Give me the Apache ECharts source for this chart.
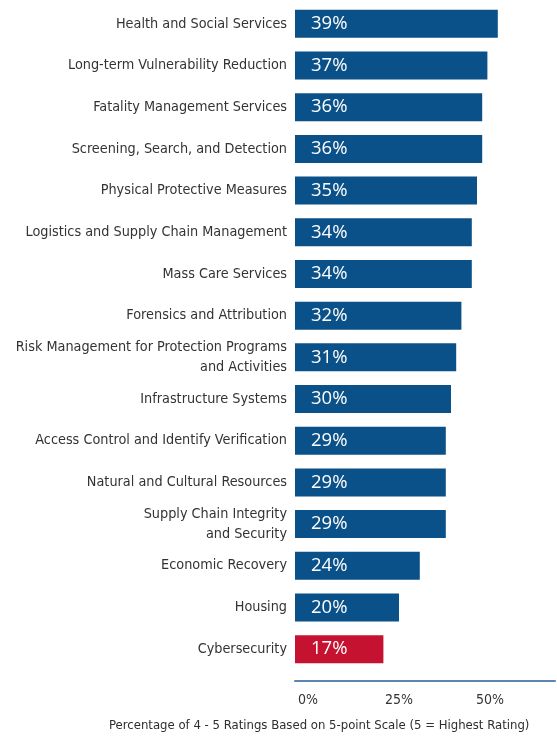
<!DOCTYPE html>
<html lang="en" style="height: 100%">
<head>
  <meta charset="UTF-8" />
  <title>Capability Ratings</title>
  <script src="https://cdn.jsdelivr.net/npm/echarts@6/dist/echarts.min.js"></script>
</head>
<body style="height: 100%; margin: 0; background: #fff">
  <div id="main" style="height: 100%"></div>
  <script type="text/javascript">
    // categories top to bottom
    var categories = [
      "Health and Social Services",
      "Long-term Vulnerability Reduction",
      "Fatality Management Services",
      "Screening, Search, and Detection",
      "Physical Protective Measures",
      "Logistics and Supply Chain Management",
      "Mass Care Services",
      "Forensics and Attribution",
      "Risk Management for Protection Programs\nand Activities",
      "Infrastructure Systems",
      "Access Control and Identify Verification",
      "Natural and Cultural Resources",
      "Supply Chain Integrity\nand Security",
      "Economic Recovery",
      "Housing",
      "Cybersecurity"
    ];
    var values = [39, 37, 36, 36, 35, 34, 34, 32, 31, 30, 29, 29, 29, 24, 20, 17];
    var highlight = "Cybersecurity";
    var tickValues = [0, 25, 50];
    var axisTitle = "Percentage of 4 - 5 Ratings Based on 5-point Scale (5 = Highest Rating)";

    var blue = "#0b5189";
    var red = "#c51230";
    var condensed = "'DejaVu Sans Condensed', sans-serif";

    var myChart = echarts.init(document.getElementById("main"));

    var barData = values.map(function (v, i) {
      return {
        value: v,
        itemStyle: { color: categories[i] === highlight ? red : blue }
      };
    });

    var option = {
      animation: false,
      title: {
        text: axisTitle,
        left: 104,
        bottom: 2,
        textStyle: { fontSize: 13, fontWeight: "normal", color: "#2e2e2e", fontFamily: condensed }
      },
      grid: { left: 295, right: 2, top: 3, bottom: 69, outerBoundsMode: "none" },
      xAxis: [
        { type: "value", min: 0, max: 50, show: false },
        {
          // tick labels as printed in the source graphic
          type: "value", min: -3.6, max: 67.9, position: "bottom", offset: 11,
          axisLine: { show: true, lineStyle: { color: "#5a86b4", width: 2 } },
          axisTick: { show: false },
          splitLine: { show: false },
          axisLabel: {
            customValues: tickValues,
            formatter: function (v) { return v + "%"; },
            color: "#333", fontSize: 14, margin: 12, fontFamily: condensed
          }
        }
      ],
      yAxis: {
        type: "category",
        data: categories,
        inverse: true,
        axisLine: { show: false },
        axisTick: { show: false },
        axisLabel: {
          color: "#333", fontSize: 14.3, margin: 8, lineHeight: 20,
          align: "right", fontFamily: condensed
        }
      },
      series: [
        {
          type: "bar",
          xAxisIndex: 0,
          data: barData,
          barWidth: 28,
          label: {
            show: true,
            position: "insideLeft",
            distance: 16,
            formatter: "{c}%",
            color: "#fff",
            fontSize: 18.5,
            fontFamily: "'Open Sans', sans-serif"
          }
        }
      ]
    };
    myChart.setOption(option);
    window.addEventListener("resize", myChart.resize);
  </script>
</body>
</html>
